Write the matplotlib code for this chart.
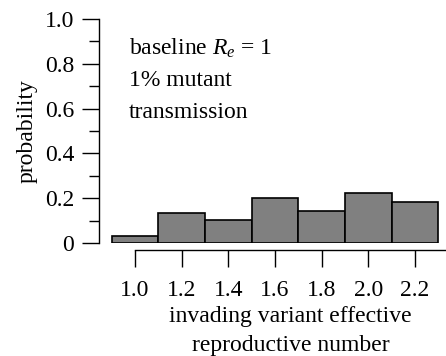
import numpy as np
import matplotlib
matplotlib.use("Agg")
import matplotlib.pyplot as plt

plt.rcParams['font.family'] = ['Liberation Serif', 'DejaVu Serif']
plt.rcParams['mathtext.fontset'] = 'custom'
plt.rcParams['mathtext.it'] = 'Liberation Serif:italic'
plt.rcParams['mathtext.rm'] = 'Liberation Serif'

# datos del histograma
bordes = [0.9, 1.1, 1.3, 1.5, 1.7, 1.9, 2.1, 2.3]
probabilidad = [0.033, 0.133, 0.103, 0.200, 0.143, 0.222, 0.182]
xticks = [1.0, 1.2, 1.4, 1.6, 1.8, 2.0, 2.2]
yticks = [0, 0.2, 0.4, 0.6, 0.8, 1.0]
ytick_labels = ["0", "0.2", "0.4", "0.6", "0.8", "1.0"]

fs = 17
xmin, xmax = 0.846, 2.333
fig = plt.figure(figsize=(4.46, 3.56), dpi=100)
ax = fig.add_axes([99 / 446, (356 - 243) / 356, 347 / 446, 224 / 356])

ancho = np.diff(bordes)
ax.bar(bordes[:-1], probabilidad, width=ancho, align="edge",
       color="#808080", edgecolor="black", linewidth=1.2)

ax.set_xlim(xmin, xmax)
ax.set_ylim(0, 1.0)

for s in ["top", "right"]:
    ax.spines[s].set_visible(False)
ax.spines["bottom"].set_position(("outward", 5))
ax.spines["bottom"].set_bounds(1.0, xmax)
ax.spines["left"].set_bounds(0, 1.0)
ax.spines["left"].set_linewidth(1.0)
ax.spines["bottom"].set_linewidth(1.0)

ax.set_xticks(xticks)
ax.set_xticklabels([f"{v:.1f}" for v in xticks], fontsize=fs)
ax.set_yticks(yticks)
ax.set_yticklabels(ytick_labels, fontsize=fs)
ax.set_yticks(np.arange(0.1, 1.0, 0.2), minor=True)
ax.tick_params(axis="both", which="major", length=12, width=1.0, pad=6)
ax.tick_params(axis="x", which="major", pad=9.5)
ax.tick_params(axis="y", which="minor", length=7, width=1.0)

ax.set_ylabel("probability", fontsize=fs, labelpad=5)
# etiqueta centrada sobre el eje inferior (de 1.0 al borde)
xcentro = ((1.0 + xmax) / 2 - xmin) / (xmax - xmin)
ax.set_xlabel("invading variant effective\nreproductive number", fontsize=fs,
              labelpad=4, linespacing=1.5, x=xcentro)

ax.text(0.975, 0.84, r"baseline $R_e$ = 1", fontsize=fs, va="baseline")
ax.text(0.975, 0.70, "1% mutant", fontsize=fs, va="baseline")
ax.text(0.975, 0.56, "transmission", fontsize=fs, va="baseline")

fig.savefig("out.png", dpi=100)
